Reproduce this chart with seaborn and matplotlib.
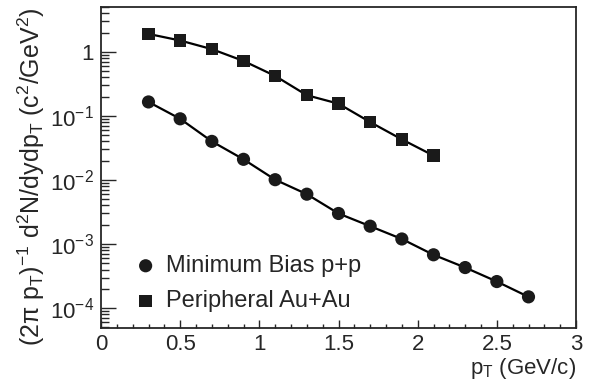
import seaborn as sns
import matplotlib.pyplot as plt
import pandas as pd
from matplotlib.ticker import MultipleLocator, LogLocator, NullFormatter

# Data
pt_pp = [0.3, 0.5, 0.7, 0.9, 1.1, 1.3, 1.5, 1.7, 1.9, 2.1, 2.3, 2.5, 2.7]
yield_pp = [0.165, 0.09, 0.04, 0.021, 0.0101, 0.006, 0.003, 0.0019, 0.0012,
            0.00068, 0.00043, 0.00026, 0.00015]
pt_auau = [0.3, 0.5, 0.7, 0.9, 1.1, 1.3, 1.5, 1.7, 1.9, 2.1]
yield_auau = [1.9, 1.5, 1.1, 0.72, 0.42, 0.21, 0.155, 0.08, 0.043, 0.024]

df_pp = pd.DataFrame({'pt': pt_pp, 'y': yield_pp})
df_au = pd.DataFrame({'pt': pt_auau, 'y': yield_auau})

sns.set_style('ticks')
plt.rcParams['font.family'] = ['Liberation Sans', 'DejaVu Sans']
plt.rcParams['mathtext.fontset'] = 'custom'
plt.rcParams['mathtext.rm'] = 'Liberation Sans'
plt.rcParams['mathtext.it'] = 'Liberation Sans'
plt.rcParams['mathtext.sf'] = 'Liberation Sans'

fig = plt.figure(figsize=(5.9, 3.81), dpi=100)
ax = fig.add_axes([101/590, 53/381, 475/590, 321/381])

# fit lines
sns.lineplot(data=df_pp, x='pt', y='y', color='black', lw=1.6, ax=ax)
sns.lineplot(data=df_au, x='pt', y='y', color='black', lw=1.6, ax=ax)
# markers
sns.scatterplot(data=df_pp, x='pt', y='y', marker='o', s=90, color='#1a1a1a',
                edgecolor='none', ax=ax, label='Minimum Bias p+p', zorder=3)
sns.scatterplot(data=df_au, x='pt', y='y', marker='s', s=80, color='#1a1a1a',
                edgecolor='none', ax=ax, label='Peripheral Au+Au', zorder=3)

ax.set_yscale('log')
ax.set_xlim(0, 3)
ax.set_ylim(4.9e-5, 5.0)

ax.xaxis.set_minor_locator(MultipleLocator(0.1))
ax.yaxis.set_minor_locator(LogLocator(base=10, subs=range(2, 10), numticks=10))
ax.yaxis.set_minor_formatter(NullFormatter())
ax.set_xticks([0, 0.5, 1, 1.5, 2, 2.5, 3])
ax.set_xticklabels(['0', '0.5', '1', '1.5', '2', '2.5', '3'])
ax.set_yticks([1e-4, 1e-3, 1e-2, 1e-1, 1])
ax.set_yticklabels(['$10^{-4}$', '$10^{-3}$', '$10^{-2}$', '$10^{-1}$', '1'])

ax.tick_params(axis='x', which='major', direction='in', length=6, width=1, labelsize=16, pad=4)
ax.tick_params(axis='x', which='minor', direction='in', length=3, width=1)
ax.tick_params(axis='y', which='major', direction='in', length=11, width=1, labelsize=16, pad=5)
ax.tick_params(axis='y', which='minor', direction='in', length=5.5, width=1)
for sp in ax.spines.values():
    sp.set_linewidth(1.3)

ax.set_xlabel('p$_{\\mathregular{T}}$ (GeV/c)', fontsize=16, loc='right', labelpad=1)
ax.set_ylabel('(2$\\pi$ p$_{\\mathregular{T}}$)$^{\\mathregular{-1}}$ d$^{\\mathregular{2}}$N/dydp$_{\\mathregular{T}}$ (c$^{\\mathregular{2}}$/GeV$^{\\mathregular{2}}$)',
              fontsize=18, loc='top', labelpad=2)

ax.legend(loc='lower left', bbox_to_anchor=(0.0716, 0.05), frameon=False,
          fontsize=17, handlelength=0.9, handletextpad=0.4, labelspacing=0.55,
          borderpad=0, borderaxespad=0)

plt.savefig('out.png', dpi=100)
